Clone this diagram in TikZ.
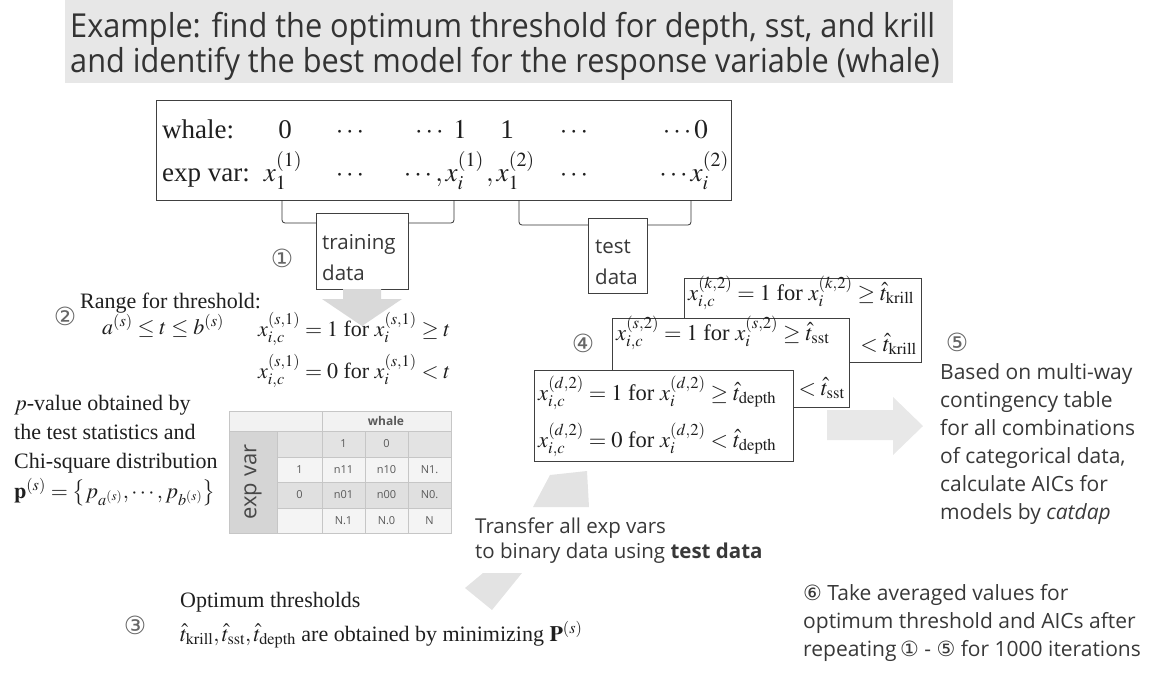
\documentclass[tikz,border=0pt]{standalone}
\usepackage{mathptmx}
\usepackage[no-math]{fontspec}
\setmainfont{Liberation Serif}
\newfontfamily\sansf{Open Sans}
\newfontfamily\titlef[FakeStretch=0.93]{Open Sans}
\newfontfamily\circf{DejaVu Sans}
\newcommand{\cnum}[1]{{\circf #1}}
\tikzset{
  serif/.style={font=\fontsize{22}{26}\selectfont, text=black!88, inner sep=0pt},
  boxmath/.style={font=\fontsize{22.5}{26}\selectfont, text=black!88, inner sep=0pt},
  topser/.style={font=\fontsize{27}{30}\selectfont, text=black!88, inner sep=0pt},
  sanstxt/.style={font=\sansf\fontsize{20.5}{25}\selectfont, text=black!78, inner sep=0pt, align=left},
  sanslong/.style={font=\sansf\fontsize{21}{28}\selectfont, text=black!78, inner sep=0pt, align=left},
  titletxt/.style={font=\titlef\fontsize{33}{35}\selectfont, text=black!80, inner sep=0pt},
  circ/.style={font=\circf\fontsize{25}{25}\selectfont, text=black!60, inner sep=0pt},
  framebox/.style={draw=black!75, line width=1pt, fill=white, inner sep=0pt},
  brk/.style={draw=black!80, line width=0.8pt, rounded corners=3pt},
  tabtxt/.style={font=\sansf\fontsize{11}{13}\selectfont, text=black!65, inner sep=0pt},
  tabline/.style={draw=gray!45, line width=0.7pt},
}
\begin{document}
\begin{tikzpicture}[x=1pt,y=-1pt]
\useasboundingbox (0,0) rectangle (1158,673);
% title
\fill[gray!19] (65,0) rectangle (953,83);
\node[titletxt, anchor=base west] (t1) at (70,37) {Example: find the optimum threshold for depth, sst, and krill};
\node[titletxt, anchor=base west] (t2) at (70,72) {and identify the best model for the response variable (whale)};
% top data box
\node[framebox, minimum width=575pt, minimum height=100pt, anchor=north west] (databox) at (156,100) {};
\node[topser, anchor=base west] (wh) at (162,138) {whale:};
\node[topser, anchor=base] (w0) at (285,138) {0};
\node[topser, anchor=base] (w1) at (350,138) {$\cdots$};
\node[topser, anchor=base east] (w2) at (467,138) {$\cdots\ 1$};
\node[topser, anchor=base] (w3) at (507,138) {1};
\node[topser, anchor=base] (w4) at (574,138) {$\cdots$};
\node[topser, anchor=base east] (w5) at (708,138) {$\cdots 0$};
\node[topser, anchor=base west] (ev) at (162,181) {exp var:};
\node[topser, anchor=base] (e0) at (283,181) {$x_1^{(1)}$};
\node[topser, anchor=base] (e1) at (350,181) {$\cdots$};
\node[topser, anchor=base east] (e2) at (484,181) {$\cdots, x_i^{(1)}$};
\node[topser, anchor=base west] (e3) at (486,181) {$, x_1^{(2)}$};
\node[topser, anchor=base] (e4) at (574,181) {$\cdots$};
\node[topser, anchor=base east] (e5) at (729,181) {$\cdots x_i^{(2)}$};
% training / test boxes
\node[framebox, line width=0.8pt, minimum width=92pt, minimum height=76pt, anchor=north west] (trbox) at (316,213) {};
\node[sanstxt, anchor=base west] (trt) at (322,249) {training};
\node[sanstxt, anchor=base west] (trd) at (322,280) {data};
\node[framebox, line width=0.8pt, minimum width=59pt, minimum height=75pt, anchor=north west] (tebox) at (588,218) {};
\node[sanstxt, anchor=base west] (tet) at (595,253) {test};
\node[sanstxt, anchor=base west] (ted) at (595,284) {data};
\coordinate (ba1) at (282,200);
\coordinate (ba2) at (454,200);
\coordinate (bb1) at (519,200);
\coordinate (bb2) at (691,200);
\draw[brk] (ba1) |- (trbox.west |- 0,223);
\draw[brk] (ba2) |- (trbox.east |- 0,223);
\draw[brk] (bb1) |- (tebox.west |- 0,225);
\draw[brk] (bb2) |- (tebox.east |- 0,225);
\node[circ] (c1) at (282,258) {①};
% down arrow
\fill[gray!30] (343,289) -- (381,289) -- (381,299) -- (402,299) -- (362,326) -- (322,299) -- (343,299) -- cycle;
% step 2
\node[circ] (c2) at (65,316) {②};
\node[serif, anchor=base west] (rng) at (80,308) {Range for threshold:};
\node[serif, anchor=base west] (rng2) at (102,334) {$a^{(s)} \leq t \leq b^{(s)}$};
\node[serif, anchor=base west] (f1) at (258,336) {$x_{i,c}^{(s,1)} = 1 \mbox{ for } x_i^{(s,1)} \geq t$};
\node[serif, anchor=base west] (f2) at (258,378) {$x_{i,c}^{(s,1)} = 0 \mbox{ for } x_i^{(s,1)} < t$};
\node[serif, anchor=base west] (pv1) at (14,410) {$p$-value obtained by};
\node[serif, anchor=base west] (pv2) at (14,439) {the test statistics and};
\node[serif, anchor=base west] (pv3) at (14,468) {Chi-square distribution};
\node[serif, anchor=base west] (pv4) at (14,498) {$\mathbf{p}^{(s)} = \left\{ p_{a^{(s)}}, \cdots, p_{b^{(s)}} \right\}$};
% contingency table
\fill[gray!10] (229,411) rectangle (451,431);
\fill[gray!33] (229,431) rectangle (277,533);
\fill[gray!22] (277,431) rectangle (451,457);
\fill[gray!9] (277,457) rectangle (451,482);
\fill[gray!24] (277,482) rectangle (451,508);
\fill[gray!9] (277,508) rectangle (451,533);
\draw[tabline] (229,411) rectangle (451,533);
\draw[tabline] (229,431) -- (451,431);
\foreach \yy in {457,482,508} \draw[tabline] (277,\yy) -- (451,\yy);
\draw[tabline] (322,411) -- (322,533);
\foreach \xx in {277,365,408} \draw[tabline] (\xx,431) -- (\xx,533);
\node[tabtxt, font=\sansf\bfseries\fontsize{12}{13}\selectfont] (tw) at (386,421) {whale};
\node[font=\sansf\fontsize{22}{22}\selectfont, text=black!72, rotate=90, inner sep=0pt] (tev) at (253,482) {exp var};
\node[tabtxt] at (343.5,444) {1};
\node[tabtxt] at (386.5,444) {0};
\node[tabtxt] at (299.5,469.5) {1};
\node[tabtxt] at (343.5,469.5) {n11};
\node[tabtxt] at (386.5,469.5) {n10};
\node[tabtxt] at (429.5,469.5) {N1.};
\node[tabtxt] at (299.5,495) {0};
\node[tabtxt] at (343.5,495) {n01};
\node[tabtxt] at (386.5,495) {n00};
\node[tabtxt] at (429.5,495) {N0.};
\node[tabtxt] at (343.5,520.5) {N.1};
\node[tabtxt] at (386.5,520.5) {N.0};
\node[tabtxt] at (429.5,520.5) {N};
% diagonal arrow pieces
\fill[gray!22] (533,507) -- (550,475) -- (587,471) -- (589,507) -- cycle;
\fill[gray!22] (483,573) -- (465,588) -- (492,610) -- (522,573) -- cycle;
\node[sanstxt, anchor=base west] (tr1) at (475,533) {Transfer all exp vars};
\node[sanstxt, anchor=base west] (tr2) at (475,558) {to binary data using \textbf{test data}};
% step 3
\node[circ] (c3) at (135,625) {③};
\node[serif, anchor=base west] (o1) at (180,607) {Optimum thresholds};
\node[serif, anchor=base west] (o2) at (180,641) {$\hat{t}_{\mathrm{krill}}, \hat{t}_{\mathrm{sst}}, \hat{t}_{\mathrm{depth}}$ are obtained by minimizing $\mathbf{P}^{(s)}$};
% step 4 stacked boxes (only visible parts of covered lines are written)
\node[framebox, minimum width=237pt, minimum height=84pt, anchor=north west] (bk) at (684,278) {};
\node[boxmath, anchor=base west] (bk1) at (688,300) {$x_{i,c}^{(k,2)} = 1 \mbox{ for } x_i^{(k,2)} \geq \hat{t}_{\mathrm{krill}}$};
\node[boxmath, anchor=base east] (bk2) at (917,351) {$\vphantom{x}^{)}\;\, < \hat{t}_{\mathrm{krill}}$};
\node[framebox, minimum width=237pt, minimum height=89pt, anchor=north west] (md) at (612,318) {};
\node[boxmath, anchor=base west] (md1) at (616,340) {$x_{i,c}^{(s,2)} = 1 \mbox{ for } x_i^{(s,2)} \geq \hat{t}_{\mathrm{sst}}$};
\node[boxmath, anchor=base east] (md2) at (845,395) {$< \hat{t}_{\mathrm{sst}}$};
\node[framebox, minimum width=259pt, minimum height=91pt, anchor=north west] (fr) at (534,370) {};
\node[boxmath, anchor=base west] (fr1) at (538,400) {$x_{i,c}^{(d,2)} = 1 \mbox{ for } x_i^{(d,2)} \geq \hat{t}_{\mathrm{depth}}$};
\node[boxmath, anchor=base west] (fr2) at (538,447) {$x_{i,c}^{(d,2)} = 0 \mbox{ for } x_i^{(d,2)} < \hat{t}_{\mathrm{depth}}$};
\node[circ] (c4) at (583,343) {④};
% right arrow
\fill[gray!18] (827,410) -- (893,410) -- (893,397) -- (923,426) -- (893,455) -- (893,440) -- (827,440) -- cycle;
% step 5
\node[circ] (c5) at (957,342) {⑤};
\node[sanslong, anchor=base west] (s5) at (940,519) {Based on multi-way\\contingency table\\for all combinations\\of categorical data,\\calculate AICs for\\models by \textit{catdap}};
% step 6
\node[sanslong, anchor=base west] (s6) at (803,656) {\cnum{⑥} Take averaged values for\\optimum threshold and AICs after\\repeating\,\cnum{①} - \cnum{⑤} for 1000 iterations};
\end{tikzpicture}
\end{document}
